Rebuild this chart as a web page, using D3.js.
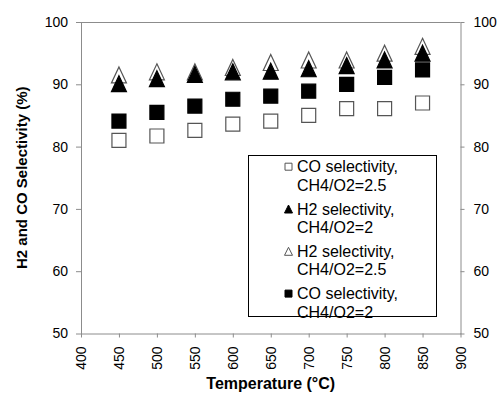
<!DOCTYPE html>
<html>
<head>
<meta charset="utf-8">
<script src="https://cdn.jsdelivr.net/npm/d3@7"></script>
<style>
  body { margin: 0; background: #fff; }
  svg { display: block; font-family: "Liberation Sans", Arial, sans-serif; }
</style>
</head>
<body>
<svg id="chart" width="502" height="394"></svg>
<script>
// temperatures (°C)
const temps = [450, 500, 550, 600, 650, 700, 750, 800, 850];

// selectivity values (%)
const coSel25 = [81.0, 81.7, 82.6, 83.6, 84.1, 85.0, 86.1, 86.1, 87.0];
const h2Sel2  = [90.1, 90.9, 91.6, 92.0, 92.1, 92.5, 93.0, 93.9, 95.0];
const h2Sel25 = [91.5, 92.0, 92.0, 92.7, 93.5, 93.9, 93.9, 95.0, 96.1];
const coSel2  = [84.1, 85.5, 86.5, 87.6, 88.1, 88.9, 90.0, 91.1, 92.3];

const xTicks = [400, 450, 500, 550, 600, 650, 700, 750, 800, 850, 900];
const yTicks = [50, 60, 70, 80, 90, 100];

const seriesNames = [
  ['CO selectivity,', 'CH4/O2=2.5'],
  ['H2 selectivity,', 'CH4/O2=2'],
  ['H2 selectivity,', 'CH4/O2=2.5'],
  ['CO selectivity,', 'CH4/O2=2']
];

const svg = d3.select('#chart');
const plotL = 81, plotR = 460.5, plotT = 22, plotB = 333.5;
const axisColor = '#8c8c8c';

const x = d3.scaleLinear().domain([400, 900]).range([plotL, plotR]);
const y = d3.scaleLinear().domain([50, 100]).range([plotB, plotT]);

// plot frame (top line)
svg.append('line')
  .attr('x1', plotL).attr('x2', plotR)
  .attr('y1', plotT + 0.5).attr('y2', plotT + 0.5)
  .attr('stroke', axisColor);

function styleAxis(g) {
  g.selectAll('.domain').attr('stroke', axisColor);
  g.selectAll('.tick line').attr('stroke', axisColor);
  g.selectAll('.tick text').attr('fill', '#000').attr('font-size', 14)
    .attr('font-family', '"Liberation Sans", Arial, sans-serif');
}

const gx = svg.append('g')
  .attr('transform', `translate(0,${plotB})`)
  .call(d3.axisBottom(x).tickValues(xTicks).tickSize(4).tickSizeOuter(0))
  .call(styleAxis);
gx.selectAll('.tick text')
  .attr('transform', 'rotate(-90)')
  .attr('text-anchor', 'end')
  .attr('x', -13).attr('y', 0).attr('dy', '0.35em');

svg.append('g')
  .attr('transform', `translate(${plotL},0)`)
  .call(d3.axisLeft(y).tickValues(yTicks).tickSize(5).tickSizeOuter(0).tickPadding(8))
  .call(styleAxis);

svg.append('g')
  .attr('transform', `translate(${plotR},0)`)
  .call(d3.axisRight(y).tickValues(yTicks).tickSize(4).tickSizeOuter(0).tickPadding(9))
  .call(styleAxis);

// axis titles
svg.append('text')
  .attr('x', (plotL + plotR) / 2).attr('y', 389)
  .attr('text-anchor', 'middle')
  .attr('font-weight', 'bold').attr('font-size', 16)
  .text('Temperature (°C)');

svg.append('text')
  .attr('transform', `translate(26.5,${(plotT + plotB) / 2}) rotate(-90)`)
  .attr('text-anchor', 'middle')
  .attr('font-weight', 'bold').attr('font-size', 15)
  .text('H2 and CO Selectivity (%)');

// marker shapes centred on their box, like the spreadsheet markers
const squarePath = s => `M${-s / 2},${-s / 2}h${s}v${s}h${-s}Z`;
const trianglePath = (w, h) => `M0,${-h / 2}L${w / 2},${h / 2}L${-w / 2},${h / 2}Z`;

const series = [
  { values: coSel25, shape: squarePath(14), fill: '#fff', stroke: '#555' },
  { values: h2Sel25, shape: trianglePath(15, 16), fill: '#fff', stroke: '#555' },
  { values: h2Sel2, shape: trianglePath(15, 16), fill: '#000', stroke: '#000' },
  { values: coSel2, shape: squarePath(14), fill: '#000', stroke: '#000' }
];

series.forEach(s => {
  svg.append('g').selectAll('path')
    .data(temps.map((t, i) => [t, s.values[i]]))
    .join('path')
    .attr('d', s.shape)
    .attr('transform', d => `translate(${x(d[0])},${y(d[1])})`)
    .attr('fill', s.fill)
    .attr('stroke', s.stroke)
    .attr('stroke-width', 1.2);
});

// legend
const legend = svg.append('g');
legend.append('rect')
  .attr('x', 248.5).attr('y', 155.5)
  .attr('width', 188).attr('height', 161)
  .attr('fill', '#fff').attr('stroke', '#000');

const legendItems = [
  { name: seriesNames[0], shape: squarePath(7), fill: '#fff', stroke: '#555' },
  { name: seriesNames[1], shape: trianglePath(8, 8), fill: '#000', stroke: '#000' },
  { name: seriesNames[2], shape: trianglePath(8, 8), fill: '#fff', stroke: '#555' },
  { name: seriesNames[3], shape: squarePath(7), fill: '#000', stroke: '#000' }
];

legendItems.forEach((item, i) => {
  const cy = 166.7 + i * 42.3;
  legend.append('path')
    .attr('d', item.shape)
    .attr('transform', `translate(288.5,${cy})`)
    .attr('fill', item.fill).attr('stroke', item.stroke).attr('stroke-width', 1);
  item.name.forEach((line, j) => {
    legend.append('text')
      .attr('x', 297).attr('y', cy + j * 18.3 + 5.7)
      .attr('font-size', 16)
      .text(line);
  });
});
</script>
</body>
</html>
